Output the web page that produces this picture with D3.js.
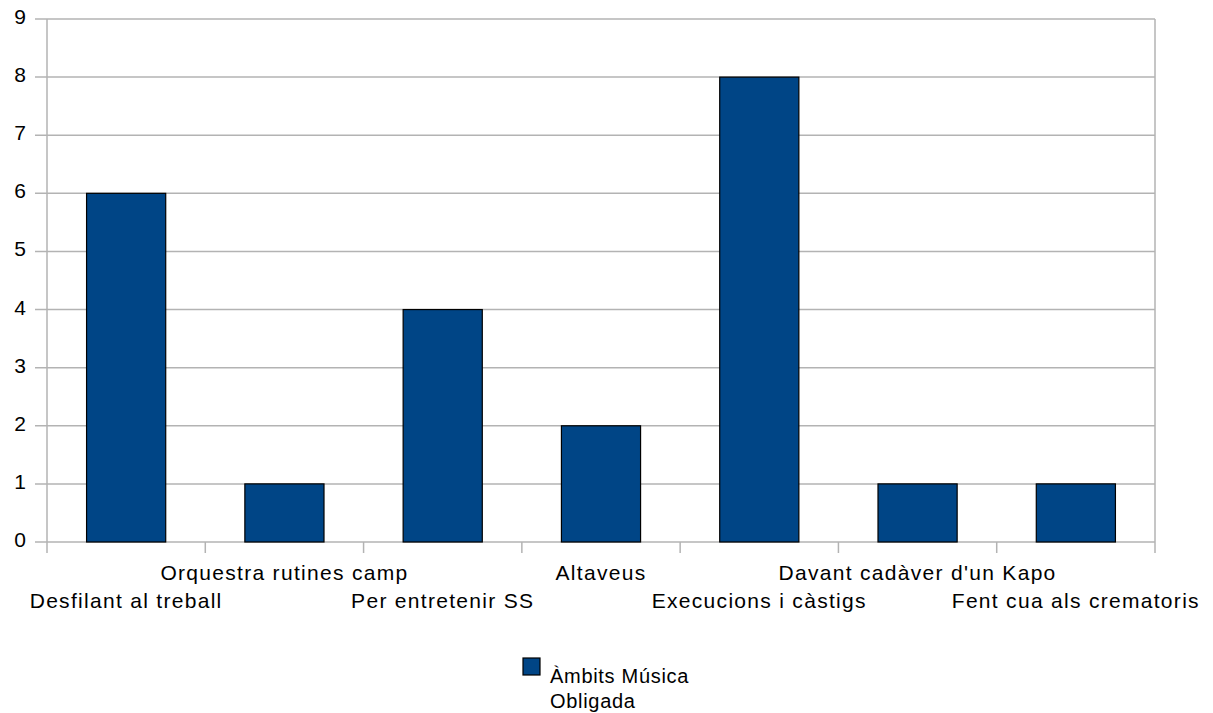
<!DOCTYPE html>
<html>
<head>
<meta charset="utf-8">
<script src="https://cdn.jsdelivr.net/npm/d3@7"></script>
<style>
  body { margin: 0; background: #fff; }
  svg text { font-family: "Liberation Sans", Arial, sans-serif; fill: #000; letter-spacing: 1.3px; }
</style>
</head>
<body>
<svg id="chart" width="1213" height="713"></svg>
<script>
// Chart data
const categories = [
  'Desfilant al treball',
  'Orquestra rutines camp',
  'Per entretenir SS',
  'Altaveus',
  'Execucions i càstigs',
  "Davant cadàver d'un Kapo",
  'Fent cua als crematoris'
];
const values = [6, 1, 4, 2, 8, 1, 1];
const yTicks = [0, 1, 2, 3, 4, 5, 6, 7, 8, 9];
const seriesName = ['Àmbits Música', 'Obligada'];

const svg = d3.select('#chart');
// plot area edges
const plotLeft = 47, plotRight = 1155, plotTop = 19, plotBottom = 542;

const x = d3.scaleBand().domain(categories).range([plotLeft, plotRight]).paddingInner(0.5).paddingOuter(0.25);
const y = d3.scaleLinear().domain([0, 9]).range([plotBottom, plotTop]);
const band = (plotRight - plotLeft) / categories.length;

// Horizontal gridlines + left ticks
svg.append('g')
  .selectAll('line')
  .data(yTicks)
  .join('line')
  .attr('x1', plotLeft - 12)
  .attr('x2', plotRight)
  .attr('y1', d => y(d))
  .attr('y2', d => y(d))
  .attr('stroke', '#b3b3b3')
  .attr('stroke-width', 1.5);

// Y tick labels
svg.append('g')
  .selectAll('text')
  .data(yTicks)
  .join('text')
  .attr('x', 26)
  .attr('y', d => y(d) + 5)
  .attr('text-anchor', 'end')
  .attr('font-size', 21)
  .style('letter-spacing', '0px')
  .text(d => d);

// Axis lines
svg.append('line')
  .attr('x1', plotLeft).attr('x2', plotLeft)
  .attr('y1', plotTop).attr('y2', plotBottom + 11)
  .attr('stroke', '#b3b3b3').attr('stroke-width', 1.5);
svg.append('line')
  .attr('x1', plotRight).attr('x2', plotRight)
  .attr('y1', plotTop).attr('y2', plotBottom + 11)
  .attr('stroke', '#b3b3b3').attr('stroke-width', 1.5);

// Category boundary ticks
svg.append('g')
  .selectAll('line')
  .data(d3.range(1, categories.length))
  .join('line')
  .attr('x1', i => plotLeft + i * band)
  .attr('x2', i => plotLeft + i * band)
  .attr('y1', plotBottom)
  .attr('y2', plotBottom + 11)
  .attr('stroke', '#b3b3b3')
  .attr('stroke-width', 1.5);

// Bars
svg.append('g')
  .selectAll('rect')
  .data(values)
  .join('rect')
  .attr('x', (d, i) => x(categories[i]))
  .attr('y', d => y(d))
  .attr('width', x.bandwidth())
  .attr('height', d => y(0) - y(d))
  .attr('fill', '#004586')
  .attr('stroke', '#000')
  .attr('stroke-width', 1.2);

// Category labels, staggered in two rows
svg.append('g')
  .selectAll('text')
  .data(categories)
  .join('text')
  .attr('x', d => x(d) + x.bandwidth() / 2)
  .attr('y', (d, i) => i % 2 === 0 ? 608 : 580)
  .attr('text-anchor', 'middle')
  .attr('font-size', 21)
  .text(d => d);

// Legend
svg.append('rect')
  .attr('x', 523).attr('y', 658)
  .attr('width', 17).attr('height', 17)
  .attr('fill', '#004586')
  .attr('stroke', '#000')
  .attr('stroke-width', 1.2);
svg.append('g')
  .selectAll('text')
  .data(seriesName)
  .join('text')
  .attr('x', 550)
  .attr('y', (d, i) => 683 + i * 25)
  .attr('font-size', 20)
  .style('letter-spacing', '0.7px')
  .text(d => d);
</script>
</body>
</html>
